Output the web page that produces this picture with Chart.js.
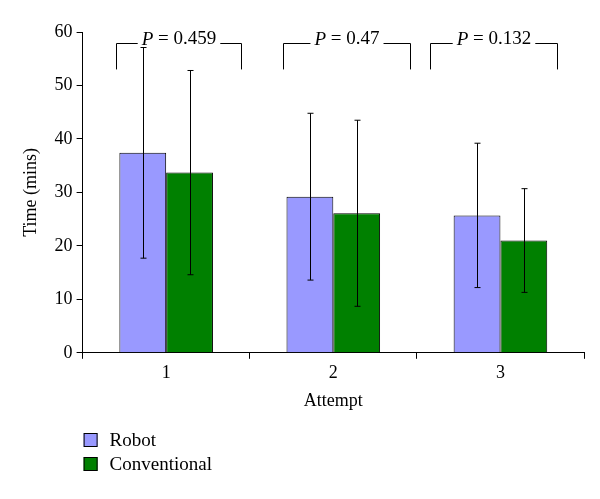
<!DOCTYPE html>
<html>
<head>
<meta charset="utf-8">
<script src="https://cdn.jsdelivr.net/npm/chart.js@4.4.1/dist/chart.umd.min.js"></script>
<style>
  html, body { margin: 0; background: #fff; }
  #wrap { width: 600px; height: 499px; }
</style>
</head>
<body>
<div id="wrap"><canvas id="chart"></canvas></div>
<script>
// Data
const attempts = ['1', '2', '3'];
const robotMean = [37.4, 29.2, 25.7];
const robotSD = [19.7, 15.6, 13.5];
const convMean = [33.7, 26.1, 21.0];
const convSD = [19.1, 17.4, 9.7];

// P-value brackets (in category units / axis units)
const pValues = ['0.459', '0.47', '0.132'];
const bracketFrom = [-0.30, 0.70, 1.58];
const bracketTo = [0.45, 1.46, 2.34];
const bracketTop = 58;
const bracketFoot = 53;

const serif = '"Liberation Serif", "DejaVu Serif", serif';

// error bars from the bar centres
const errorBars = {
  id: 'errorBars',
  afterDatasetsDraw(chart) {
    const ctx = chart.ctx;
    const y = chart.scales.y;
    ctx.save();
    ctx.strokeStyle = '#000';
    ctx.lineWidth = 1;
    chart.data.datasets.forEach((ds, i) => {
      const meta = chart.getDatasetMeta(i);
      meta.data.forEach((bar, j) => {
        const hi = y.getPixelForValue(ds.data[j] + ds.sd[j]);
        const lo = y.getPixelForValue(ds.data[j] - ds.sd[j]);
        const x = Math.round(bar.x) + 0.5;
        ctx.beginPath();
        ctx.moveTo(x, hi); ctx.lineTo(x, lo);
        ctx.moveTo(x - 3, hi); ctx.lineTo(x + 3, hi);
        ctx.moveTo(x - 3, lo); ctx.lineTo(x + 3, lo);
        ctx.stroke();
      });
    });
    ctx.restore();
  }
};

// P = ... brackets above each attempt
const brackets = {
  id: 'brackets',
  afterDraw(chart) {
    const ctx = chart.ctx;
    const xs = chart.scales.x, ys = chart.scales.y;
    const x0 = xs.getPixelForValue(0), step = xs.getPixelForValue(1) - x0;
    const top = Math.round(ys.getPixelForValue(bracketTop)) + 0.5;
    const foot = ys.getPixelForValue(bracketFoot);
    ctx.save();
    ctx.strokeStyle = '#000';
    ctx.fillStyle = '#000';
    ctx.lineWidth = 1;
    ctx.textBaseline = 'middle';
    pValues.forEach((p, i) => {
      const l = Math.round(x0 + bracketFrom[i] * step) + 0.5;
      const r = Math.round(x0 + bracketTo[i] * step) + 0.5;
      const mid = (l + r) / 2;
      ctx.font = 'italic 19px ' + serif;
      const wP = ctx.measureText('P').width;
      ctx.font = '19px ' + serif;
      const rest = ' = ' + p;
      const wR = ctx.measureText(rest).width;
      const w = wP + wR;
      const tx = mid - w / 2;
      ctx.beginPath();
      ctx.moveTo(l, foot); ctx.lineTo(l, top); ctx.lineTo(tx - 4, top);
      ctx.moveTo(tx + w + 4, top); ctx.lineTo(r, top); ctx.lineTo(r, foot);
      ctx.stroke();
      ctx.textAlign = 'left';
      ctx.font = 'italic 19px ' + serif;
      ctx.fillText('P', tx, top - 4);
      ctx.font = '19px ' + serif;
      ctx.fillText(rest, tx + wP, top - 4);
    });
    ctx.restore();
  }
};

// vertical legend in the lower left
const sideLegend = {
  id: 'sideLegend',
  afterDraw(chart) {
    const ctx = chart.ctx;
    const left = chart.chartArea.left + 1;
    ctx.save();
    ctx.font = '19px ' + serif;
    ctx.textBaseline = 'middle';
    ctx.lineWidth = 1;
    chart.data.datasets.forEach((ds, i) => {
      const cy = chart.height - 59 + i * 24;
      ctx.fillStyle = ds.backgroundColor;
      ctx.fillRect(left, cy - 7, 14, 14);
      ctx.strokeStyle = '#000';
      ctx.strokeRect(left + 0.5, cy - 6.5, 13, 13);
      ctx.fillStyle = '#000';
      ctx.fillText(ds.label, left + 26, cy + 1);
    });
    ctx.restore();
  }
};

new Chart(document.getElementById('chart'), {
  type: 'bar',
  data: {
    labels: attempts,
    datasets: [
      {
        label: 'Robot',
        data: robotMean,
        sd: robotSD,
        backgroundColor: '#9999ff',
        borderColor: '#000',
        borderWidth: 1
      },
      {
        label: 'Conventional',
        data: convMean,
        sd: convSD,
        backgroundColor: '#008000',
        borderColor: '#000',
        borderWidth: 1
      }
    ]
  },
  options: {
    responsive: true,
    maintainAspectRatio: false,
    animation: false,
    layout: { padding: { left: 16, right: 16, top: 32, bottom: 83 } },
    datasets: { bar: { barPercentage: 1, categoryPercentage: 0.56 } },
    plugins: {
      legend: { display: false },
      tooltip: { enabled: false }
    },
    scales: {
      x: {
        grid: { display: true, drawOnChartArea: false, drawTicks: true, tickLength: 6, color: '#000', offset: true },
        border: { color: '#000', width: 1 },
        ticks: { color: '#000', font: { family: serif, size: 18 }, padding: 4 },
        title: { display: true, text: 'Attempt', color: '#000', font: { family: serif, size: 18 }, padding: { top: 2 } }
      },
      y: {
        min: 0,
        max: 60,
        grid: { display: true, drawOnChartArea: false, drawTicks: true, tickLength: 6, color: '#000' },
        border: { color: '#000', width: 1 },
        ticks: { stepSize: 10, color: '#000', font: { family: serif, size: 18 }, padding: 4 },
        title: { display: true, text: 'Time (mins)', color: '#000', font: { family: serif, size: 18 }, padding: { bottom: 9 } }
      }
    }
  },
  plugins: [errorBars, brackets, sideLegend]
});
</script>
</body>
</html>
